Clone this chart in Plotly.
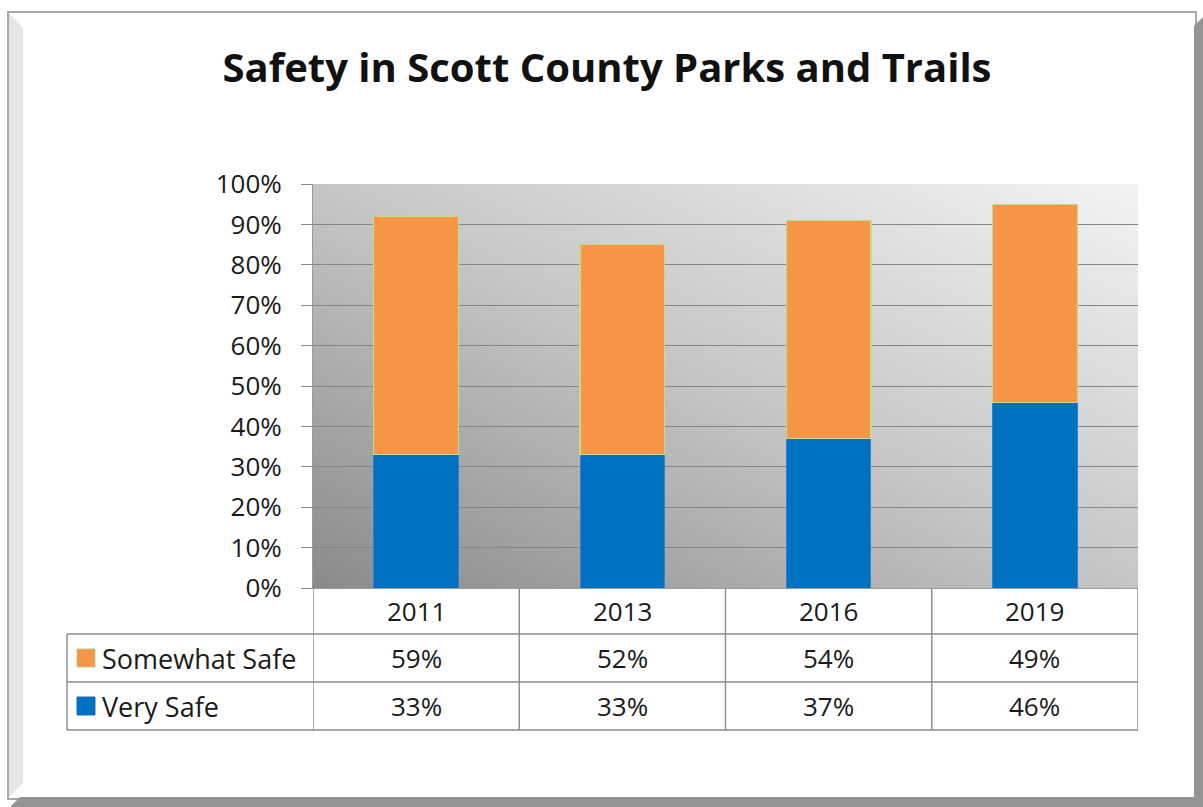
import base64
import plotly.graph_objects as go

# ---------------- data ----------------
years = ["2011", "2013", "2016", "2019"]
very_safe = [33, 33, 37, 46]
somewhat_safe = [59, 52, 54, 49]
series_names = ["Somewhat Safe", "Very Safe"]
title_text = "Safety in Scott County Parks and Trails"

# ---------------- styling ----------------
W, H = 1203, 807
FONT = "Open Sans"
TXT = "#1a1a1a"
ORANGE = "#F79646"
BLUE = "#0070C0"
GRID = "#858585"
TABLE_LINE = "#8a8a8a"
FS = 26


def px(x):
    return x / W


def py(y):
    return 1 - y / H


plot_l, plot_r, plot_t, plot_b = 313, 1138, 184, 588
table_l = 67
row_lines = [634, 682, 730]

fig = go.Figure()

vs = [v / 100 for v in very_safe]
ss = [v / 100 for v in somewhat_safe]

fig.add_trace(go.Bar(
    x=years, y=vs, name=series_names[1], marker=dict(color=BLUE, line=dict(color="#2a86cf", width=1)),
    width=0.41, showlegend=False, hovertemplate="%{x}: %{y:.0%}<extra>Very Safe</extra>"))
fig.add_trace(go.Bar(
    x=years, y=ss, name=series_names[0], marker=dict(color=ORANGE, line=dict(color="#c5d98f", width=1.2)),
    width=0.41, showlegend=False, hovertemplate="%{x}: %{y:.0%}<extra>Somewhat Safe</extra>"))

# gradient background for the plot area (SVG data URI)
svg = (
    '<svg xmlns="http://www.w3.org/2000/svg" width="100" height="100" preserveAspectRatio="none">'
    '<defs><linearGradient id="g" x1="0" y1="1" x2="1" y2="0">'
    '<stop offset="0" stop-color="#8a8a8a"/>'
    '<stop offset="0.5" stop-color="#c6c6c6"/>'
    '<stop offset="1" stop-color="#f3f3f3"/>'
    '</linearGradient></defs>'
    '<rect width="100" height="100" fill="url(#g)"/></svg>'
)
src = "data:image/svg+xml;base64," + base64.b64encode(svg.encode()).decode()

images = [dict(source=src, xref="paper", yref="paper", x=px(plot_l), y=py(plot_t),
               sizex=px(plot_r) - px(plot_l), sizey=py(plot_t) - py(plot_b),
               xanchor="left", yanchor="top", sizing="stretch", layer="below")]

shapes = []
# ---- outer frame ----
shapes.append(dict(type="rect", xref="paper", yref="paper", x0=px(8), y0=py(12), x1=px(1196), y1=py(799),
                   line=dict(color="#a8a8a8", width=2), fillcolor="rgba(0,0,0,0)", layer="below"))
shapes.append(dict(type="path", xref="paper", yref="paper",
                   path=f"M {px(9)},{py(13)} L {px(23)},{py(28)} L {px(23)},{py(783)} L {px(9)},{py(797)} Z",
                   fillcolor="#e6e6e6", line=dict(width=0), layer="below"))
shapes.append(dict(type="path", xref="paper", yref="paper",
                   path=f"M {px(1194)},{py(26)} L {px(1203)},{py(17)} L {px(1203)},{py(807)} L {px(1194)},{py(807)} Z",
                   fillcolor="#949494", line=dict(width=0), layer="below"))
shapes.append(dict(type="path", xref="paper", yref="paper",
                   path=f"M {px(20)},{py(797)} L {px(1203)},{py(797)} L {px(1203)},{py(807)} L {px(10)},{py(807)} Z",
                   fillcolor="#949494", line=dict(width=0), layer="below"))

# ---- data table lines ----
bounds = [i - 0.5 for i in range(len(years) + 1)]
for b in bounds:
    shapes.append(dict(type="line", xref="x", yref="paper", x0=b, x1=b, y0=py(plot_b), y1=py(row_lines[-1]),
                       line=dict(color=TABLE_LINE, width=1.4)))
for ry in row_lines:
    shapes.append(dict(type="line", xref="paper", yref="paper", x0=px(table_l), x1=px(plot_r), y0=py(ry), y1=py(ry),
                       line=dict(color=TABLE_LINE, width=1.4)))
shapes.append(dict(type="line", xref="paper", yref="paper", x0=px(table_l), x1=px(table_l),
                   y0=py(row_lines[0]), y1=py(row_lines[-1]), line=dict(color=TABLE_LINE, width=1.4)))

annotations = []
header_c = (plot_b + row_lines[0]) / 2
row_c = [(row_lines[0] + row_lines[1]) / 2, (row_lines[1] + row_lines[2]) / 2]
table_rows = [(series_names[0], somewhat_safe, ORANGE, "#b9cc86"), (series_names[1], very_safe, BLUE, "#1a6fb5")]

for i, yr in enumerate(years):
    annotations.append(dict(x=i, xref="x", y=py(header_c), yref="paper", text=yr, showarrow=False,
                            font=dict(family=FONT, size=FS, color=TXT), xanchor="center", yanchor="middle"))
for (name, vals, col, lcol), rc in zip(table_rows, row_c):
    shapes.append(dict(type="rect", xref="paper", yref="paper", x0=px(77), x1=px(95),
                       y0=py(rc - 9), y1=py(rc + 9), fillcolor=col, line=dict(color=lcol, width=1)))
    annotations.append(dict(x=px(100), xref="paper", y=py(rc), yref="paper", text=name, showarrow=False,
                            font=dict(family=FONT, size=27, color=TXT), xanchor="left", yanchor="middle"))
    for i, v in enumerate(vals):
        annotations.append(dict(x=i, xref="x", y=py(rc), yref="paper", text=f"{v}%", showarrow=False,
                                font=dict(family=FONT, size=FS, color=TXT), xanchor="center", yanchor="middle"))

fig.update_layout(
    width=W, height=H,
    margin=dict(l=0, r=0, t=0, b=0, autoexpand=False),
    paper_bgcolor="white",
    plot_bgcolor="rgba(0,0,0,0)",
    barmode="stack",
    title=dict(text=f"<b>{title_text}</b>", x=px(607), xanchor="center", y=py(68), yanchor="middle",
               font=dict(family=FONT, size=40, color="#111111")),
    xaxis=dict(domain=[px(plot_l), px(plot_r)], type="category", range=[-0.5, 3.5], automargin=False,
               showticklabels=False, ticks="", showgrid=False, zeroline=False,
               showline=True, linecolor="#9a9a9a", linewidth=1),
    yaxis=dict(domain=[py(plot_b), py(plot_t)], range=[0, 1], dtick=0.1, tickformat=".0%", automargin=False,
               showgrid=True, gridcolor=GRID, gridwidth=1, zeroline=False,
               showline=True, linecolor="#9a9a9a", linewidth=1,
               ticks="outside", ticklen=11, tickcolor="#8a8a8a", ticklabelstandoff=14,
               tickfont=dict(family=FONT, size=FS, color=TXT)),
    images=images,
    shapes=shapes,
    annotations=annotations,
)

# remove the page's default body margin so the figure fills the window exactly
fig.write_html("out.html", config={"displayModeBar": False},
               post_script="document.body.style.margin='0';document.body.style.overflow='hidden';")
